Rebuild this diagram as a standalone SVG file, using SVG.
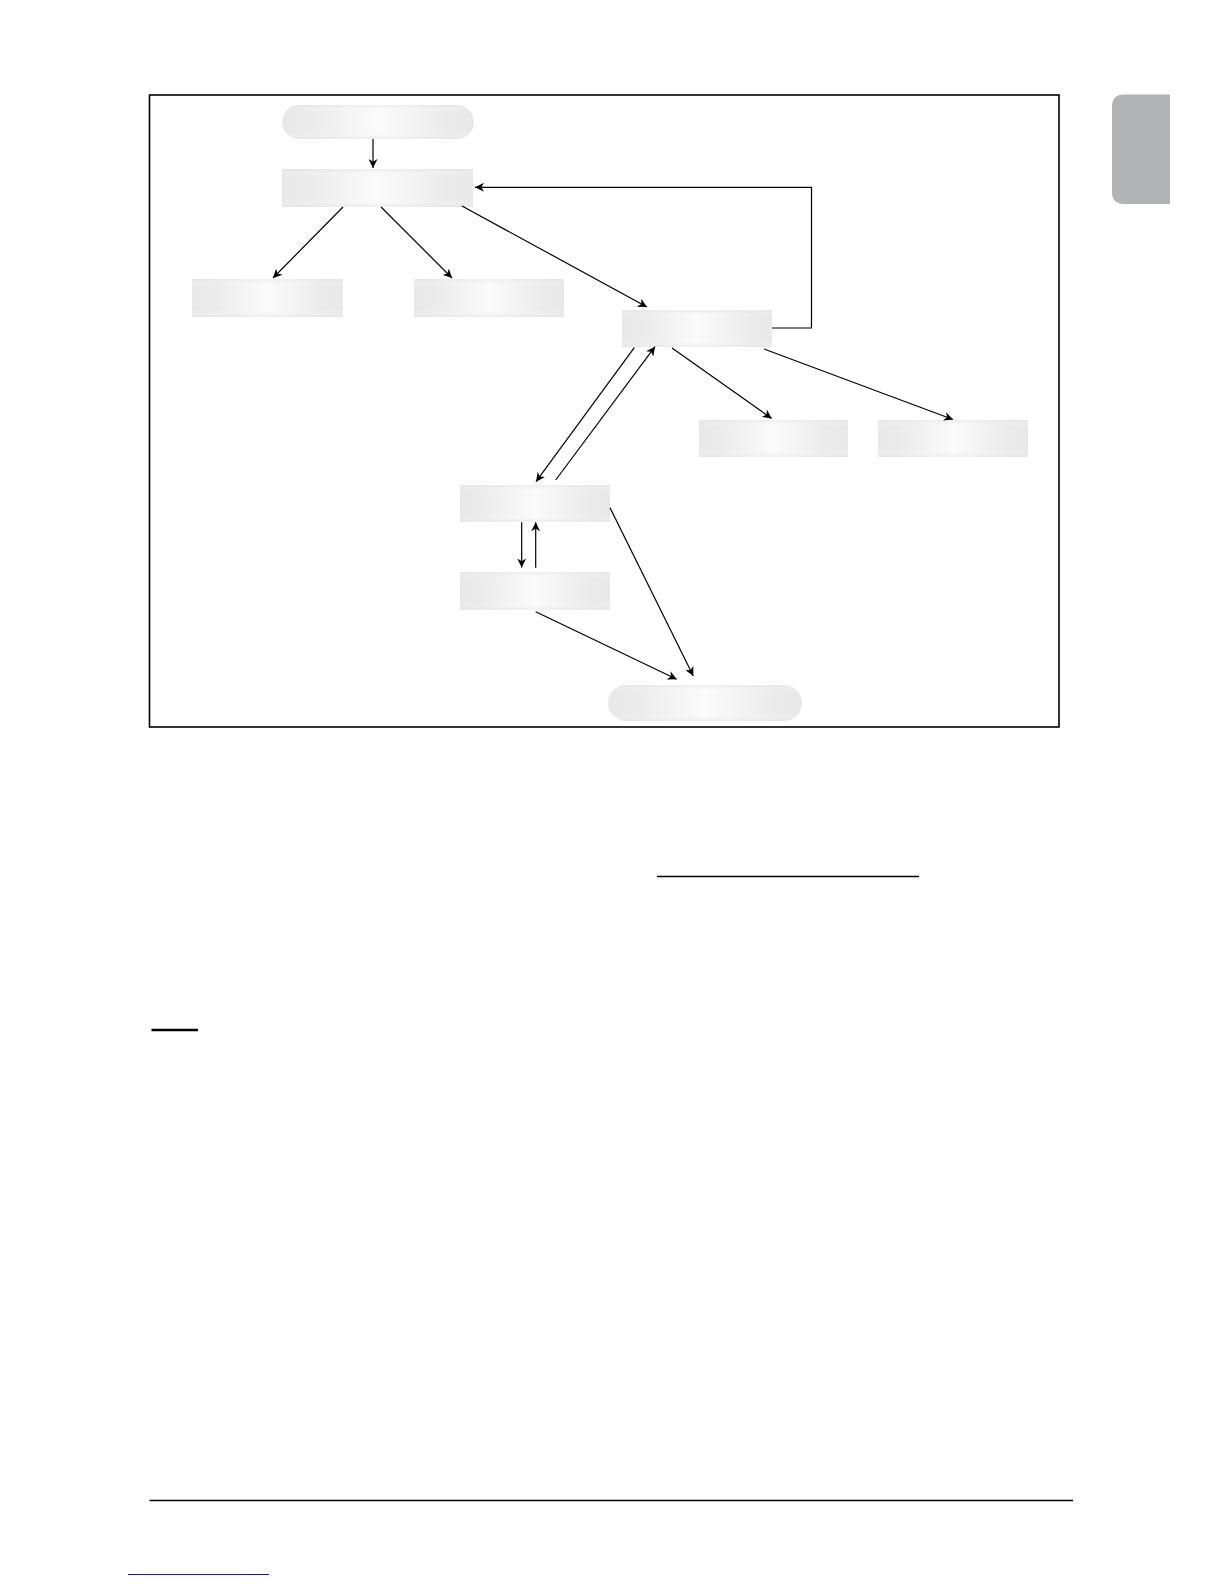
<svg xmlns="http://www.w3.org/2000/svg" width="1224" height="1584" viewBox="0 0 1224 1584">
<style>
.node{fill:url(#gh)}
.shade{fill:url(#gv)}
.conn{fill:none;stroke:#000;stroke-width:1.2;marker-end:url(#ah)}
.rule{stroke:#000;fill:none}
</style>
<defs>
<linearGradient id="gh" x1="0" y1="0" x2="1" y2="0">
<stop offset="0" stop-color="#e8e8e8"/>
<stop offset="0.15" stop-color="#ebebeb"/>
<stop offset="0.5" stop-color="#fbfbfb"/>
<stop offset="0.85" stop-color="#ebebeb"/>
<stop offset="1" stop-color="#e8e8e8"/>
</linearGradient>
<linearGradient id="gv" x1="0" y1="0" x2="0" y2="1">
<stop offset="0" stop-color="#e4e4e4" stop-opacity="0.6"/>
<stop offset="0.2" stop-color="#ffffff" stop-opacity="0"/>
<stop offset="0.8" stop-color="#ffffff" stop-opacity="0"/>
<stop offset="1" stop-color="#e4e4e4" stop-opacity="0.6"/>
</linearGradient>
<marker id="ah" viewBox="0 0 10 10" refX="10" refY="5" markerWidth="9" markerHeight="9" markerUnits="userSpaceOnUse" orient="auto">
<path d="M0,0 L10,5 L0,10 L3,5 z" fill="#000"/>
</marker>
</defs>
<rect width="1224" height="1584" fill="#fff"/>
<path d="M1124,94.5 L1170,94.5 L1170,204 L1124,204 Q1112,204 1112,192 L1112,106.5 Q1112,94.5 1124,94.5 z" fill="#b2b3b5"/>
<rect x="149.5" y="95" width="909.5" height="632" class="rule" stroke-width="1.6"/>
<g id="n1"><rect x="282" y="105" width="192" height="34" rx="17" class="node"/><rect x="282" y="105" width="192" height="34" rx="17" class="shade"/></g>
<g id="n2"><rect x="282" y="169" width="191" height="38" class="node"/><rect x="282" y="169" width="191" height="38" class="shade"/></g>
<g id="n3"><rect x="192" y="279" width="151" height="38" class="node"/><rect x="192" y="279" width="151" height="38" class="shade"/></g>
<g id="n4"><rect x="414" y="279" width="150" height="38" class="node"/><rect x="414" y="279" width="150" height="38" class="shade"/></g>
<g id="n5"><rect x="622" y="310" width="150" height="37" class="node"/><rect x="622" y="310" width="150" height="37" class="shade"/></g>
<g id="n6"><rect x="699" y="420" width="149" height="37" class="node"/><rect x="699" y="420" width="149" height="37" class="shade"/></g>
<g id="n7"><rect x="878" y="420" width="150" height="37" class="node"/><rect x="878" y="420" width="150" height="37" class="shade"/></g>
<g id="n8"><rect x="460" y="485" width="150" height="37" class="node"/><rect x="460" y="485" width="150" height="37" class="shade"/></g>
<g id="n9"><rect x="460" y="572" width="150" height="38" class="node"/><rect x="460" y="572" width="150" height="38" class="shade"/></g>
<g id="n10"><rect x="608" y="685" width="194" height="36" rx="18" class="node"/><rect x="608" y="685" width="194" height="36" rx="18" class="shade"/></g>
<g id="connectors">
<path class="conn" d="M373,139 L373,168"/>
<path class="conn" d="M772,328 L811.5,328 L811.5,187.3 L475,187.3"/>
<path class="conn" d="M343,207 L273,278"/>
<path class="conn" d="M381,207 L452,278"/>
<path class="conn" d="M462,206 L647,307"/>
<path class="conn" d="M672,348 L771.7,418.5"/>
<path class="conn" d="M764,349 L953,419.5"/>
<path class="conn" d="M634.3,347.7 L536,481.7"/>
<path class="conn" d="M555.7,480 L655,346.7"/>
<path class="conn" d="M521.7,522.3 L521.7,567.5"/>
<path class="conn" d="M535.7,567.7 L535.7,522.3"/>
<path class="conn" d="M535.7,611.7 L676.7,679.3"/>
<path class="conn" d="M610,507.7 L693.3,676"/>
</g>
<line x1="657" y1="876.5" x2="919" y2="876.5" class="rule" stroke-width="1.5"/>
<line x1="151.5" y1="1030" x2="198" y2="1030" class="rule" stroke-width="2.5"/>
<line x1="149.5" y1="1500.5" x2="1073" y2="1500.5" class="rule" stroke-width="1.5"/>
<line x1="128" y1="1574.5" x2="269" y2="1574.5" stroke="#1c1c9c" stroke-width="1.2"/>
</svg>
